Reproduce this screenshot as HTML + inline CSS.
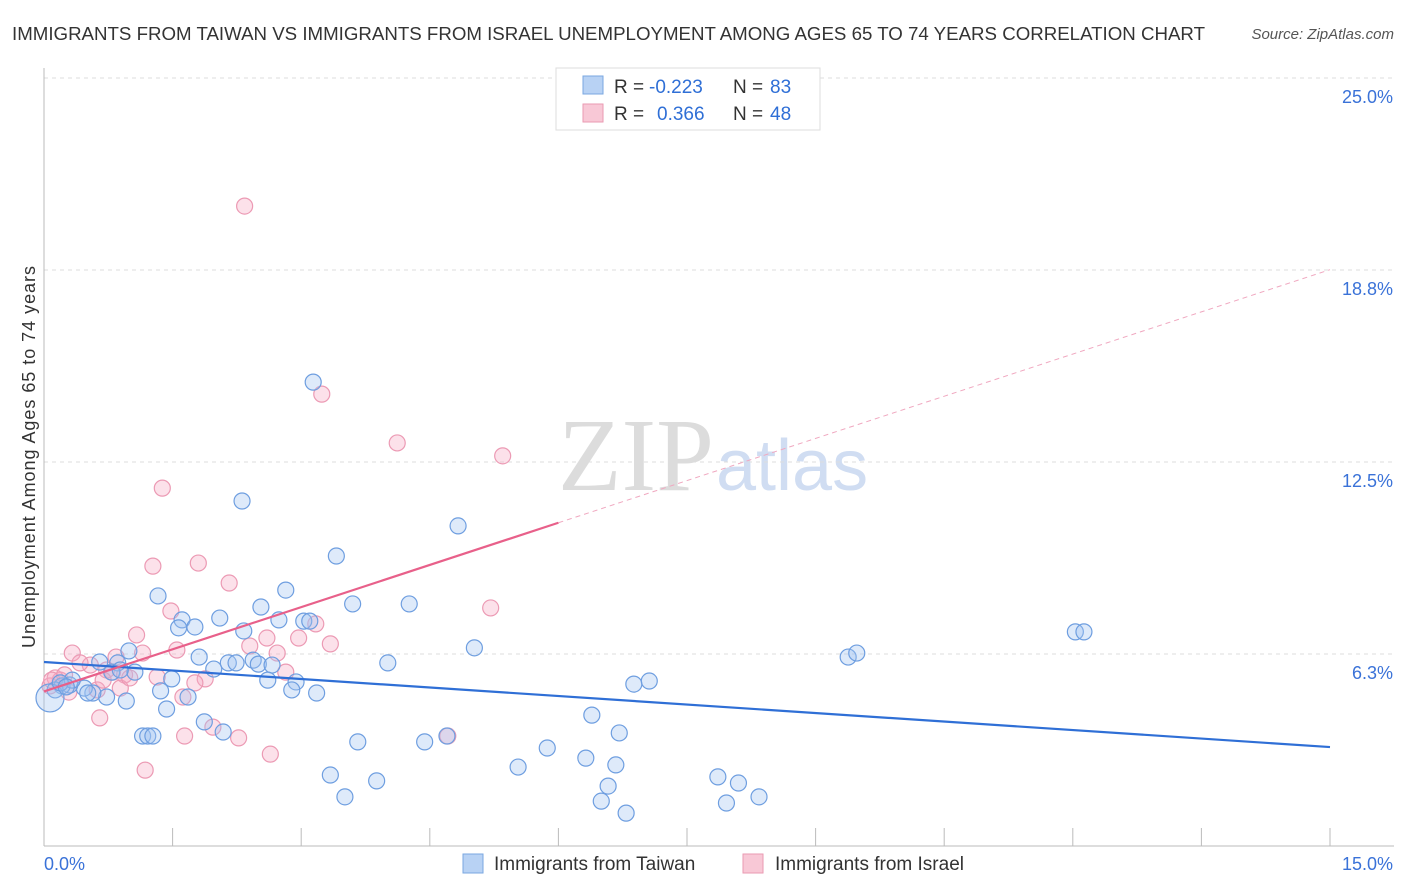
<!DOCTYPE html>
<html><head><meta charset="utf-8"><style>
body{margin:0;background:#fff;font-family:"Liberation Sans",sans-serif}
svg{display:block}
</style></head><body>
<svg id="chart" width="1406" height="892">
<text x="12" y="40" font-size="18.7" fill="#333" textLength="1193">IMMIGRANTS FROM TAIWAN VS IMMIGRANTS FROM ISRAEL UNEMPLOYMENT AMONG AGES 65 TO 74 YEARS CORRELATION CHART</text>
<text x="1394" y="39" font-size="15" fill="#555" text-anchor="end" font-style="italic">Source: ZipAtlas.com</text>
<text x="714" y="490" font-size="104" fill="#dcdcdc" text-anchor="end" font-family="Liberation Serif">ZIP</text>
<text x="716" y="490" font-size="72" fill="#d0ddf2">atlas</text>
<g id="grid"></g><g id="axes"></g><g id="pts"></g><g id="lines"></g>
<text transform="translate(35,457) rotate(-90)" font-size="18" fill="#333" text-anchor="middle" textLength="382">Unemployment Among Ages 65 to 74 years</text>
<g>
<rect x="556" y="68" width="264" height="62" fill="#fff" stroke="#ddd"/>
<rect x="583" y="76" width="20" height="18" fill="#b8d2f4" stroke="#7aa7e0"/>
<rect x="583" y="104" width="20" height="18" fill="#f8c8d6" stroke="#ea9ab2"/>
<text x="614" y="93" font-size="19" fill="#333">R =</text>
<text x="649" y="93" font-size="19" fill="#2f6fd6">-0.223</text>
<text x="733" y="93" font-size="19" fill="#333">N =</text>
<text x="770" y="93" font-size="19" fill="#2f6fd6">83</text>
<text x="614" y="120" font-size="19" fill="#333">R =</text>
<text x="657" y="120" font-size="19" fill="#2f6fd6">0.366</text>
<text x="733" y="120" font-size="19" fill="#333">N =</text>
<text x="770" y="120" font-size="19" fill="#2f6fd6">48</text>
</g>
<g>
<rect x="463" y="854" width="20" height="19" fill="#b8d2f4" stroke="#7aa7e0"/>
<text x="494" y="870" font-size="19" fill="#333">Immigrants from Taiwan</text>
<rect x="743" y="854" width="20" height="19" fill="#f8c8d6" stroke="#ea9ab2"/>
<text x="775" y="870" font-size="19" fill="#333">Immigrants from Israel</text>
</g>
</svg>
<script>
const yTicks=[6.25,12.5,18.75,25];
const yTickLabels=["6.3%","12.5%","18.8%","25.0%"];
const xTicks=[0,1.5,3,4.5,6,7.5,9,10.5,12,13.5,15];
const taiwanPx=[[313,382],[242,501],[458,526],[336,556],[158,596],[286,590],[261,607],[353,604],[409,604],[182,620],[195,627],[179,628],[220,618],[279,620],[304,621],[310,621],[244,631],[474,648],[388,663],[129,651],[118,663],[100,662],[199,657],[214,669],[228,663],[236,663],[253,660],[258,664],[272,665],[268,680],[296,682],[292,690],[317,693],[172,679],[161,691],[188,697],[167,709],[126,701],[107,697],[93,693],[84,688],[70,685],[62,686],[55,690],[50,698],[135,672],[112,672],[204,722],[223,732],[143,736],[148,736],[153,736],[358,742],[425,742],[447,736],[547,748],[518,767],[586,758],[616,765],[592,715],[619,733],[634,684],[649,681],[330,775],[345,797],[377,781],[608,786],[601,801],[626,813],[718,777],[738,783],[726,803],[759,797],[848,657],[857,653],[1075,632],[1084,632],[72,680],[60,683],[66,687],[88,693],[120,670]];
const israelPx=[[245,206],[322,394],[397,443],[503,456],[162,488],[153,566],[198,563],[229,583],[171,611],[491,608],[316,624],[137,635],[267,638],[299,638],[330,644],[250,646],[277,653],[72,653],[116,657],[143,653],[90,665],[80,663],[113,672],[125,675],[60,680],[55,678],[205,679],[195,683],[286,672],[177,650],[157,677],[183,697],[120,688],[97,690],[69,692],[100,718],[213,727],[185,736],[239,738],[270,754],[145,770],[448,736],[50,686],[52,680],[65,675],[107,670],[130,678],[103,680]];
const taiwanX=taiwanPx.map(p=>+((p[0]-44)/85.73).toFixed(2));
const taiwanY=taiwanPx.map(p=>+((846-p[1])/30.72).toFixed(2));
const israelX=israelPx.map(p=>+((p[0]-44)/85.73).toFixed(2));
const israelY=israelPx.map(p=>+((846-p[1])/30.72).toFixed(2));
const taiwanTrend=[5.99,3.22];
const israelTrend=[5.03,18.76];
const X0=44,X1=1330,Y0=846;
function sx(v){return X0+v*(X1-X0)/15;}
function sy(v){return Y0-v*30.72;}
const NS="http://www.w3.org/2000/svg";
function mk(tag,attrs,parent){const e=document.createElementNS(NS,tag);for(const k in attrs)e.setAttribute(k,attrs[k]);document.getElementById(parent).appendChild(e);return e;}
yTicks.forEach((t,i)=>{
 const g=mk('line',{x1:X0,x2:1394,y1:sy(t),y2:sy(t),stroke:'#ddd','stroke-dasharray':'4,4'},'grid');
 
 
 const l=mk('text',{x:1393,y:sy(t)+25,'font-size':18,fill:'#3a72d8','text-anchor':'end'},'axes');
 l.textContent=yTickLabels[i];
 
 
});
const ax=mk('line',{x1:X0,x2:X0,y1:68,y2:846,stroke:'#bbb'},'axes');


const bx=mk('line',{x1:X0,x2:1394,y1:846,y2:846,stroke:'#bbb'},'axes');


xTicks.forEach(t=>{const e=mk('line',{x1:sx(t),x2:sx(t),y1:828,y2:846,stroke:'#bbb'},'axes');
 
 });
[['0.0%',X0,'start'],['15.0%',1393,'end']].forEach(a=>{const e=mk('text',{x:a[1],y:870,'font-size':18,fill:'#3a72d8','text-anchor':a[2]},'axes');e.textContent=a[0];
 
 });
israelX.forEach((x,i)=>{const c=mk('circle',{cx:sx(x),cy:sy(israelY[i]),r:8,fill:'rgba(245,170,195,0.35)',stroke:'#ec9ab4','stroke-width':1.2},'pts');
 
 });
taiwanX.forEach((x,i)=>{const c=mk('circle',{cx:sx(x),cy:sy(taiwanY[i]),r:(i==44?14:8),fill:'rgba(160,195,240,0.35)',stroke:'#6e9ee0','stroke-width':1.2},'pts');
 
 });
const bl=mk('line',{x1:sx(0),y1:sy(taiwanTrend[0]),x2:sx(15),y2:sy(taiwanTrend[1]),stroke:'#2f6fd6','stroke-width':2.2},'lines');


const pm=israelTrend[0]+(israelTrend[1]-israelTrend[0])*6/15;
const pl=mk('line',{x1:sx(0),y1:sy(israelTrend[0]),x2:sx(6),y2:sy(pm),stroke:'#e8608a','stroke-width':2.2},'lines');


const pd=mk('line',{x1:sx(6),y1:sy(pm),x2:sx(15),y2:sy(israelTrend[1]),stroke:'#f0a8c0','stroke-width':1,'stroke-dasharray':'5,4'},'lines');


</script>
</body></html>
